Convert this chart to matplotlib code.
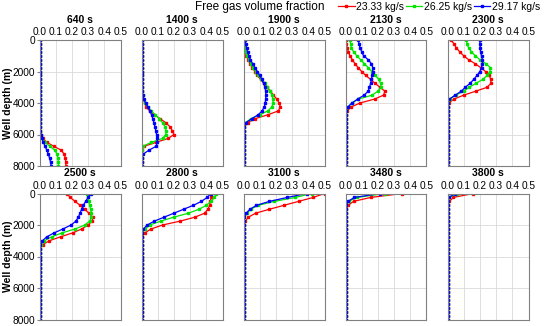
import matplotlib
matplotlib.use("Agg")
from matplotlib import pyplot as plt

plt.rcParams["font.family"] = ["Liberation Sans", "DejaVu Sans"]

# well depth grid (m), shared by every curve
depth = [0, 250, 500, 750, 1000, 1250, 1500, 1750, 2000, 2250, 2500,
         2750, 3000, 3250, 3500, 3750, 4000, 4250, 4500, 4750, 5000,
         5250, 5500, 5750, 6000, 6250, 6500, 6750, 7000, 7250, 7500,
         7750, 8000]

times = ["640", "1400", "1900", "2130", "2300", "2500", "2800", "3100", "3480", "3800"]
rates = ["23.33 kg/s", "26.25 kg/s", "29.17 kg/s"]
colors = ["#ff0000", "#00e600", "#0000ff"]

# free gas volume fraction, one list per mass rate, per time
red = {
    "640": [0, 0, 0, 0, 0, 0, 0, 0, 0, 0, 0, 0, 0, 0, 0, 0, 0, 0, 0, 0, 0, 0, 0,
            0.003, 0.008, 0.02, 0.045, 0.09, 0.135, 0.152, 0.16, 0.162, 0.163],
    "1400": [0, 0, 0, 0, 0, 0, 0, 0, 0, 0, 0, 0, 0.002, 0.004, 0.006, 0.01, 0.02,
             0.03, 0.05, 0.08, 0.115, 0.15, 0.175, 0.19, 0.2, 0.165, 0.09, 0.015,
             0.002, 0, 0, 0, 0],
    "1900": [0, 0.002, 0.005, 0.01, 0.018, 0.028, 0.04, 0.055, 0.07, 0.085, 0.105,
             0.125, 0.145, 0.165, 0.185, 0.205, 0.22, 0.228, 0.215, 0.15, 0.07,
             0.025, 0.006, 0.001, 0, 0, 0, 0, 0, 0, 0, 0, 0],
    "2130": [0, 0.004, 0.01, 0.018, 0.027, 0.042, 0.058, 0.078, 0.1, 0.125, 0.155,
             0.182, 0.213, 0.243, 0.235, 0.18, 0.09, 0.035, 0.01, 0.002, 0, 0, 0,
             0, 0, 0, 0, 0, 0, 0, 0, 0, 0],
    "2300": [0.023, 0.04, 0.055, 0.075, 0.1, 0.13, 0.17, 0.205, 0.235, 0.258, 0.267,
             0.268, 0.245, 0.175, 0.1, 0.04, 0.008, 0.001, 0, 0, 0, 0, 0, 0, 0, 0,
             0, 0, 0, 0, 0, 0, 0],
    "2500": [0.17, 0.19, 0.22, 0.25, 0.28, 0.305, 0.33, 0.325, 0.3, 0.26, 0.205,
             0.13, 0.06, 0.02, 0.003, 0, 0, 0, 0, 0, 0, 0, 0, 0, 0, 0, 0, 0, 0, 0,
             0, 0, 0],
    "2800": [0.43, 0.43, 0.425, 0.42, 0.41, 0.39, 0.33, 0.24, 0.13, 0.06, 0.02,
             0.005, 0, 0, 0, 0, 0, 0, 0, 0, 0, 0, 0, 0, 0, 0, 0, 0, 0, 0, 0, 0, 0],
    "3100": [0.5, 0.43, 0.34, 0.25, 0.16, 0.075, 0.03, 0.012, 0.004, 0, 0, 0, 0, 0,
             0, 0, 0, 0, 0, 0, 0, 0, 0, 0, 0, 0, 0, 0, 0, 0, 0, 0, 0],
    "3480": [0.35, 0.155, 0.05, 0.016, 0.005, 0.001, 0, 0, 0, 0, 0, 0, 0, 0, 0, 0,
             0, 0, 0, 0, 0, 0, 0, 0, 0, 0, 0, 0, 0, 0, 0, 0, 0],
    "3800": [0.158, 0.037, 0.01, 0.002, 0, 0, 0, 0, 0, 0, 0, 0, 0, 0, 0, 0, 0, 0,
             0, 0, 0, 0, 0, 0, 0, 0, 0, 0, 0, 0, 0, 0, 0],
}
green = {
    "640": [0, 0, 0, 0, 0, 0, 0, 0, 0, 0, 0, 0, 0, 0, 0, 0, 0, 0, 0, 0, 0, 0, 0,
            0.003, 0.008, 0.018, 0.035, 0.065, 0.095, 0.108, 0.114, 0.116, 0.117],
    "1400": [0, 0, 0, 0, 0, 0, 0, 0, 0, 0, 0, 0, 0.002, 0.004, 0.007, 0.012, 0.022,
             0.04, 0.06, 0.085, 0.11, 0.13, 0.145, 0.152, 0.15, 0.13, 0.06, 0.008,
             0.001, 0, 0, 0, 0],
    "1900": [0.003, 0.006, 0.01, 0.016, 0.024, 0.034, 0.046, 0.06, 0.075, 0.09,
             0.11, 0.13, 0.148, 0.163, 0.175, 0.182, 0.183, 0.175, 0.15, 0.1, 0.045,
             0.012, 0.002, 0, 0, 0, 0, 0, 0, 0, 0, 0, 0],
    "2130": [0.027, 0.032, 0.036, 0.05, 0.07, 0.093, 0.117, 0.14, 0.163, 0.185,
             0.205, 0.217, 0.22, 0.2, 0.165, 0.08, 0.04, 0.015, 0.004, 0, 0, 0, 0,
             0, 0, 0, 0, 0, 0, 0, 0, 0, 0],
    "2300": [0.115, 0.122, 0.13, 0.148, 0.172, 0.2, 0.237, 0.265, 0.262, 0.245,
             0.218, 0.175, 0.135, 0.1, 0.05, 0.015, 0.003, 0, 0, 0, 0, 0, 0, 0, 0,
             0, 0, 0, 0, 0, 0, 0, 0],
    "2500": [0.295, 0.3, 0.305, 0.31, 0.315, 0.32, 0.32, 0.31, 0.28, 0.22, 0.14,
             0.075, 0.03, 0.008, 0.001, 0, 0, 0, 0, 0, 0, 0, 0, 0, 0, 0, 0, 0, 0,
             0, 0, 0, 0],
    "2800": [0.46, 0.45, 0.43, 0.4, 0.355, 0.29, 0.2, 0.12, 0.05, 0.02, 0.006, 0,
             0, 0, 0, 0, 0, 0, 0, 0, 0, 0, 0, 0, 0, 0, 0, 0, 0, 0, 0, 0, 0],
    "3100": [0.42, 0.32, 0.19, 0.09, 0.045, 0.02, 0.006, 0.002, 0, 0, 0, 0, 0, 0,
             0, 0, 0, 0, 0, 0, 0, 0, 0, 0, 0, 0, 0, 0, 0, 0, 0, 0, 0],
    "3480": [0.243, 0.07, 0.02, 0.006, 0.001, 0, 0, 0, 0, 0, 0, 0, 0, 0, 0, 0, 0,
             0, 0, 0, 0, 0, 0, 0, 0, 0, 0, 0, 0, 0, 0, 0, 0],
    "3800": [0.058, 0.012, 0.002, 0, 0, 0, 0, 0, 0, 0, 0, 0, 0, 0, 0, 0, 0, 0, 0,
             0, 0, 0, 0, 0, 0, 0, 0, 0, 0, 0, 0, 0, 0],
}
blue = {
    "640": [0, 0, 0, 0, 0, 0, 0, 0, 0, 0, 0, 0, 0, 0, 0, 0, 0, 0, 0, 0, 0, 0,
            0.002, 0.004, 0.008, 0.014, 0.024, 0.035, 0.045, 0.055, 0.062, 0.068,
            0.072],
    "1400": [0, 0, 0, 0, 0, 0, 0, 0, 0, 0, 0, 0, 0.002, 0.004, 0.008, 0.014, 0.025,
             0.04, 0.052, 0.062, 0.07, 0.077, 0.083, 0.088, 0.093, 0.097, 0.098,
             0.09, 0.045, 0.01, 0.001, 0, 0],
    "1900": [0.01, 0.014, 0.019, 0.025, 0.033, 0.043, 0.056, 0.07, 0.086, 0.1,
             0.113, 0.124, 0.132, 0.137, 0.138, 0.137, 0.134, 0.128, 0.115, 0.09,
             0.05, 0.015, 0.003, 0, 0, 0, 0, 0, 0, 0, 0, 0, 0],
    "2130": [0.079, 0.084, 0.09, 0.1, 0.112, 0.14, 0.16, 0.168, 0.168, 0.165, 0.16,
             0.155, 0.148, 0.14, 0.115, 0.075, 0.04, 0.015, 0.004, 0, 0, 0, 0, 0,
             0, 0, 0, 0, 0, 0, 0, 0, 0],
    "2300": [0.2, 0.2, 0.202, 0.204, 0.21, 0.215, 0.215, 0.21, 0.2, 0.182, 0.162,
             0.14, 0.11, 0.085, 0.048, 0.012, 0.002, 0, 0, 0, 0, 0, 0, 0, 0, 0, 0,
             0, 0, 0, 0, 0, 0],
    "2500": [0.315, 0.3, 0.285, 0.27, 0.26, 0.25, 0.24, 0.225, 0.195, 0.145, 0.09,
             0.045, 0.018, 0.006, 0.001, 0, 0, 0, 0, 0, 0, 0, 0, 0, 0, 0, 0, 0, 0,
             0, 0, 0, 0],
    "2800": [0.43, 0.405, 0.37, 0.32, 0.26, 0.2, 0.14, 0.08, 0.035, 0.012, 0.003,
             0, 0, 0, 0, 0, 0, 0, 0, 0, 0, 0, 0, 0, 0, 0, 0, 0, 0, 0, 0, 0, 0],
    "3100": [0.39, 0.27, 0.16, 0.08, 0.04, 0.016, 0.005, 0.001, 0, 0, 0, 0, 0, 0,
             0, 0, 0, 0, 0, 0, 0, 0, 0, 0, 0, 0, 0, 0, 0, 0, 0, 0, 0],
    "3480": [0.215, 0.055, 0.015, 0.004, 0.001, 0, 0, 0, 0, 0, 0, 0, 0, 0, 0, 0, 0,
             0, 0, 0, 0, 0, 0, 0, 0, 0, 0, 0, 0, 0, 0, 0, 0],
    "3800": [0.048, 0.007, 0.001, 0, 0, 0, 0, 0, 0, 0, 0, 0, 0, 0, 0, 0, 0, 0, 0,
             0, 0, 0, 0, 0, 0, 0, 0, 0, 0, 0, 0, 0, 0],
}

xticks = [0.0, 0.1, 0.2, 0.3, 0.4, 0.5]
yticks = [0, 2000, 4000, 6000, 8000]

W, H = 550, 326
fig = plt.figure(figsize=(W / 100, H / 100), dpi=100)


def rect(left, top, w, h):
    return [left / W, 1 - (top + h) / H, w / W, h / H]


lines = []
for i, t in enumerate(times):
    row, col = divmod(i, 5)
    top = 40 if row == 0 else 193.5
    left = 39.5 + 102 * col
    ax = fig.add_axes(rect(left, top, 81, 126))
    for series, c in zip([red, green, blue], colors):
        ln, = ax.plot(series[t], depth, color=c, lw=0.9, marker="s", ms=2.0,
                      mec=c, mfc=c)
        if i == 0:
            lines.append(ln)
    ax.set_xlim(0, 0.5)
    ax.set_ylim(8000, 0)
    ax.set_xticks(xticks)
    ax.set_xticklabels([f"{v:.1f}" for v in xticks])
    ax.set_yticks(yticks)
    ax.xaxis.tick_top()
    ax.tick_params(axis="x", length=0, pad=2, labelsize=7.3)
    ax.tick_params(axis="y", length=2, pad=1, labelsize=7.3, color="#808080")
    if col != 0:
        ax.set_yticklabels([])
        ax.tick_params(axis="y", length=0)
    ax.grid(True, color="#d9d9d9", lw=0.6)
    for s in ax.spines.values():
        s.set_color("#808080")
        s.set_linewidth(0.8)
    fig.text((left + 40.5) / W, 1 - (20 if row == 0 else 172.5) / H, f"{t} s",
             ha="center", va="center", fontsize=7.5, fontweight="bold")

for yc in [103, 256.5]:
    fig.text(8 / W, 1 - yc / H, "Well depth (m)", rotation=90, ha="center",
             va="center", fontsize=7.5, fontweight="bold")

fig.text(260 / W, 1 - 7 / H, "Free gas volume fraction", ha="center",
         va="center", fontsize=8.5)
fig.legend(lines, rates, loc="center left", bbox_to_anchor=(338 / W, 1 - 7 / H),
           ncol=3, frameon=False, fontsize=7.5, handlelength=1.6,
           handletextpad=0.15, columnspacing=0.15, borderpad=0, borderaxespad=0)

fig.savefig("out.png", dpi=100)
